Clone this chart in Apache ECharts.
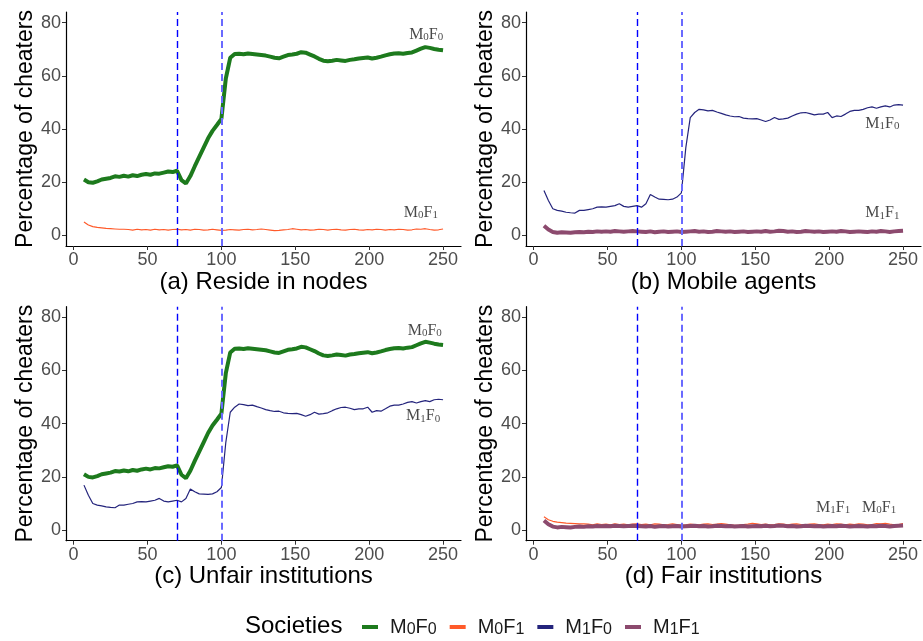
<!DOCTYPE html>
<html>
<head>
<meta charset="utf-8">
<script src="https://cdn.jsdelivr.net/npm/echarts@6/dist/echarts.min.js"></script>
<style>
  html, body { margin: 0; padding: 0; background: #fff; }
  #chart { width: 923px; height: 641px; }
</style>
</head>
<body>
<div id="chart"></div>
<script>
// time steps (x) shared by every series
var steps = [7,10,13,16,19,22,25,28,31,34,37,40,43,46,49,52,55,58,61,64,67,70,73,76,79,82,85,88,91,94,97,100,
  103,106,109,112,115,118,121,124,127,130,133,136,139,142,145,148,151,154,157,160,163,166,169,172,175,178,181,184,
  187,190,193,196,199,202,205,208,211,214,217,220,223,226,229,232,235,238,241,244,247,250];

// percentage of cheaters, one array per society
var m0f0 = [21.0,20.0,19.8,20.3,21.0,21.3,21.6,22.2,22.0,22.4,
  22.1,22.6,22.3,22.8,23.1,22.8,23.3,23.2,23.6,24.0,
  23.8,24.3,20.8,19.5,22.3,26.0,29.5,33.0,36.5,39.3,
  41.5,43.8,59.0,66.8,68.2,68.3,68.1,68.4,68.2,68.0,
  67.8,67.6,67.2,66.8,66.6,67.2,67.8,68.0,68.3,68.9,
  68.7,68.0,67.3,66.4,65.7,65.5,65.7,66.0,65.8,65.6,
  66.0,66.2,66.5,66.7,66.9,66.5,66.8,67.2,67.7,68.1,
  68.4,68.5,68.3,68.6,68.8,69.5,70.2,70.8,70.5,70.1,
  69.8,69.6];
var m0f1 = [5.0,3.9,3.3,3.0,2.8,2.6,2.5,2.4,2.3,2.3,
  2.2,2.0,2.3,2.1,2.2,2.0,2.3,2.1,2.2,2.0,
  2.2,2.3,2.1,2.2,2.0,2.3,2.2,2.0,2.1,2.3,
  2.1,1.9,2.0,2.2,2.1,2.0,2.2,2.3,2.1,2.2,
  2.4,2.2,2.0,1.8,1.9,2.1,2.2,2.5,2.3,2.1,
  2.2,2.0,2.1,2.3,2.2,2.0,2.2,2.3,2.1,2.0,
  2.2,2.3,2.1,2.0,2.2,2.1,2.3,2.2,2.0,2.2,
  2.1,2.3,2.2,2.0,2.1,2.4,2.3,2.5,2.2,2.0,
  2.1,2.4];
var m1f0 = [16.9,13.1,10.0,9.4,9.1,8.7,8.5,8.4,9.4,9.4,
  9.7,10.0,10.6,10.7,10.6,10.9,11.2,11.9,10.9,10.6,
  10.9,11.2,10.6,11.9,15.4,14.4,13.6,13.5,13.4,13.6,
  14.4,16.0,33.0,44.3,46.2,47.4,47.2,46.8,47.0,46.4,
  45.9,45.3,44.9,44.6,44.7,44.1,43.9,43.8,43.9,43.4,
  42.8,43.4,44.3,43.6,43.8,44.1,44.9,45.6,46.1,46.2,
  45.8,45.3,45.6,45.6,46.2,44.3,44.9,44.7,45.6,46.6,
  47.0,47.0,47.4,48.0,48.3,47.8,48.3,48.7,48.3,49.0,
  49.2,49.0];
var m1f1 = [3.6,2.2,1.3,1.0,1.2,1.1,1.0,1.2,1.3,1.2,
  1.4,1.3,1.5,1.4,1.5,1.4,1.6,1.5,1.4,1.5,
  1.6,1.5,1.4,1.3,1.5,1.2,1.4,1.5,1.3,1.4,
  1.5,1.3,1.4,1.5,1.6,1.4,1.5,1.3,1.4,1.6,
  1.5,1.4,1.5,1.3,1.4,1.5,1.3,1.4,1.5,1.4,
  1.6,1.4,1.5,1.7,1.6,1.4,1.5,1.3,1.4,1.6,
  1.5,1.4,1.5,1.3,1.4,1.5,1.4,1.6,1.5,1.3,
  1.4,1.5,1.4,1.3,1.5,1.4,1.6,1.5,1.3,1.5,
  1.6,1.7];

var societies = ['M0F0', 'M0F1', 'M1F0', 'M1F1'];
var panelTitles = ['(a) Reside in nodes', '(b) Mobile agents', '(c) Unfair institutions', '(d) Fair institutions'];
var panelSeries = [['M0F0', 'M0F1'], ['M1F0', 'M1F1'], ['M0F0', 'M1F0'], ['M0F1', 'M1F1']];
var xTicks = [0, 50, 100, 150, 200, 250];
var yTicks = [0, 20, 40, 60, 80];
var vlines = [70, 100];

// text labels inside panels: [panel, society, x, y]
var tags = [
  [0, 'M0F0', 238.6, 75.6], [0, 'M0F1', 235, 8.6],
  [1, 'M1F0', 236, 42], [1, 'M1F1', 236, 8.3],
  [2, 'M0F0', 237.6, 75], [2, 'M1F0', 236.5, 42.8],
  [3, 'M1F1', 202.7, 8.4], [3, 'M0F1', 233.8, 8.4]
];

var values = { M0F0: m0f0, M0F1: m0f1, M1F0: m1f0, M1F1: m1f1 };
var colors = { M0F0: '#1d7a1d', M0F1: '#ff5a2a', M1F0: '#24247c', M1F1: '#8c4a6e' };
var widths = { M0F0: 4, M0F1: 1.2, M1F0: 1.2, M1F1: 4 };

function sub(name) {
  return '{m|M}{s|' + name[1] + '}{m|F}{s|' + name[3] + '}';
}

var chart = echarts.init(document.getElementById('chart'));

var grids = [
  { left: 66, top: 12, width: 395, height: 234 },
  { left: 526, top: 12, width: 395, height: 234 },
  { left: 66, top: 306.7, width: 395, height: 234 },
  { left: 526, top: 306.7, width: 395, height: 234 }
];

var xAxes = [], yAxes = [], series = [];
var sansFont = 'Liberation Sans';

grids.forEach(function (g, i) {
  xAxes.push({
    gridIndex: i, type: 'value', min: -5.15, max: 262.15,
    name: panelTitles[i], nameLocation: 'middle', nameGap: 23,
    nameTextStyle: { fontFamily: sansFont, fontSize: 24, color: '#000' },
    axisLine: { show: true, onZero: false, lineStyle: { color: '#000', width: 1.2 } },
    axisTick: { show: true, length: 4, customValues: xTicks, lineStyle: { color: '#333' } },
    axisLabel: { customValues: xTicks, fontFamily: sansFont, fontSize: 18, color: '#4d4d4d', margin: 5 },
    splitLine: { show: false }
  });
  yAxes.push({
    gridIndex: i, type: 'value', min: -4, max: 84,
    name: 'Percentage of cheaters', nameLocation: 'middle', nameGap: 28,
    nameTextStyle: { fontFamily: sansFont, fontSize: 23, color: '#000' },
    axisLine: { show: true, onZero: false, lineStyle: { color: '#000', width: 1.2 } },
    axisTick: { show: true, length: 4, customValues: yTicks, lineStyle: { color: '#333' } },
    axisLabel: { customValues: yTicks, fontFamily: sansFont, fontSize: 18, color: '#4d4d4d', margin: 5 },
    splitLine: { show: false }
  });

  panelSeries[i].forEach(function (key, k) {
    var s = {
      name: key, type: 'line', xAxisIndex: i, yAxisIndex: i,
      data: steps.map(function (x, j) { return [x, values[key][j]]; }),
      showSymbol: false, animation: false,
      lineStyle: { color: colors[key], width: widths[key] },
      itemStyle: { color: colors[key] }
    };
    if (k === 0) {
      s.markLine = {
        silent: true, symbol: 'none', animation: false,
        label: { show: false },
        data: [
          { xAxis: vlines[0], lineStyle: { color: '#0000ff', type: [7, 4], width: 1.4 } },
          { xAxis: vlines[1], lineStyle: { color: '#6a6aff', type: [7, 4], width: 2 } }
        ]
      };
    }
    series.push(s);
  });
});

tags.forEach(function (t) {
  series.push({
    type: 'scatter', xAxisIndex: t[0], yAxisIndex: t[0],
    data: [[t[2], t[3]]], symbolSize: 1, silent: true, animation: false,
    itemStyle: { color: 'rgba(0,0,0,0)' },
    label: {
      show: true, position: 'inside', formatter: sub(t[1]),
      rich: {
        m: { fontFamily: 'Liberation Serif', fontSize: 16, color: '#1a1a1a' },
        s: { fontFamily: 'Liberation Serif', fontSize: 11, color: '#1a1a1a', verticalAlign: 'bottom', padding: [4, 0, 0, 0] }
      }
    }
  });
});

chart.setOption({
  animation: false,
  grid: grids,
  xAxis: xAxes,
  yAxis: yAxes,
  series: series,
  legend: {
    data: societies, left: 357, top: 612,
    icon: 'rect', itemWidth: 16, itemHeight: 4, itemGap: 13,
    formatter: function (name) { return '{g|}' + sub(name); },
    textStyle: {
      color: '#1a1a1a',
      rich: {
        g: { width: 7 },
        m: { fontFamily: sansFont, fontSize: 20, color: '#1a1a1a' },
        s: { fontFamily: sansFont, fontSize: 16, color: '#1a1a1a', verticalAlign: 'bottom', padding: [5, 0, 0, 0] }
      }
    }
  },
  graphic: [{
    type: 'text', left: 245, top: 614,
    style: { text: 'Societies', fontFamily: sansFont, fontSize: 24, fill: '#000' }
  }]
});
</script>
</body>
</html>
